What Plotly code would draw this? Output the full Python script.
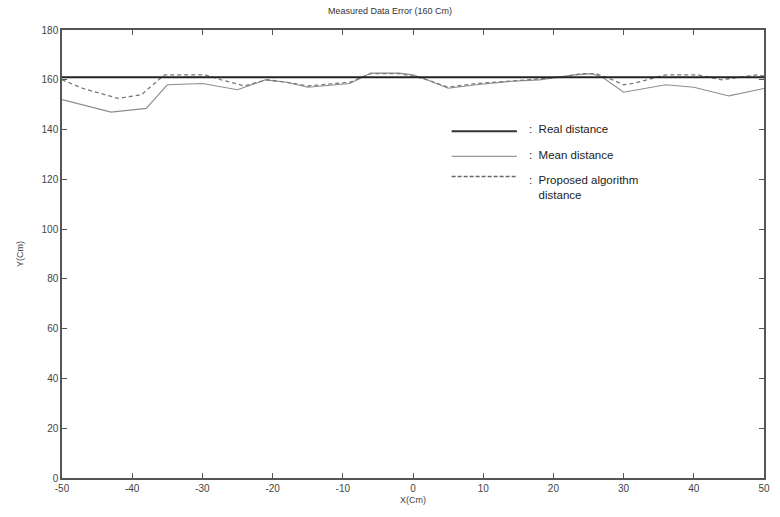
import plotly.graph_objects as go

# ---- data ----
real_x = [-50, 50]
real_y = [161, 161]

mean_x = [-50, -43, -38, -35, -30, -25, -21, -18, -15, -11, -9, -6, -2, 0, 2, 5, 9, 14, 18, 23, 25.5, 27, 30, 36, 40, 45, 50]
mean_y = [152, 147, 148.5, 158, 158.5, 156, 160, 159, 157, 158, 158.5, 162.7, 162.7, 162, 160, 156.6, 158, 159.4, 160, 162, 162.5, 161, 155, 158, 157, 153.5, 156.5]

prop_x = [-50, -47, -42, -38.7, -35.4, -29.7, -27.3, -24, -22.7, -20.8, -18, -15, -11, -9, -6, -2, 0, 2, 5, 9, 14, 18, 21, 24, 26, 28, 30, 31.5, 36, 40.5, 44, 49, 50]
prop_y = [160, 156.5, 152.5, 154, 162, 162, 160, 157.5, 158.6, 160, 159, 157.5, 158.5, 159, 162.5, 162.5, 161.5, 160, 157, 158.5, 159.5, 160.5, 161, 162.5, 162.5, 160.5, 158, 158.6, 162, 162, 160, 162, 161.5]

x_ticks = [-50, -40, -30, -20, -10, 0, 10, 20, 30, 40, 50]
y_ticks = [0, 20, 40, 60, 80, 100, 120, 140, 160, 180]

legend_labels = [":  Real distance", ":  Mean distance", ":  Proposed algorithm<br>   distance"]

FONT = "Liberation Sans, Arial, sans-serif"

fig = go.Figure()
fig.add_trace(go.Scatter(x=mean_x, y=mean_y, mode="lines",
                         line=dict(color="#8e8e8e", width=1.2), showlegend=False))
fig.add_trace(go.Scatter(x=prop_x, y=prop_y, mode="lines",
                         line=dict(color="#7a7a7a", width=1.3, dash="4px,3px"), showlegend=False))
fig.add_trace(go.Scatter(x=real_x, y=real_y, mode="lines",
                         line=dict(color="#222222", width=2), showlegend=False))

# custom legend (decoration)
leg_styles = [dict(color="#333333", width=2),
              dict(color="#999999", width=1.3),
              dict(color="#666666", width=1.3, dash="4px,2px")]
leg_y = [0.774, 0.718, 0.673]
txt_y = [0.778, 0.722, 0.683]
for st, ly, ty, lab in zip(leg_styles, leg_y, txt_y, legend_labels):
    fig.add_shape(type="line", xref="paper", yref="paper",
                  x0=0.555, x1=0.648, y0=ly, y1=ly, line=st)
    fig.add_annotation(xref="paper", yref="paper", x=0.663, y=ty,
                       text=lab, showarrow=False, xanchor="left",
                       yanchor="middle" if "<br>" not in lab else "top",
                       align="left", font=dict(family=FONT, size=11.5, color="#222222"))

fig.update_layout(
    width=780, height=517,
    margin=dict(l=62, r=10, t=30, b=39),
    paper_bgcolor="white", plot_bgcolor="white",
    title=dict(text="Measured Data Error (160 Cm)", x=0.5, xanchor="center",
               y=0.985, yanchor="top",
               font=dict(family=FONT, size=9, color="#333333")),
    font=dict(family=FONT, size=10, color="#444444"),
)
fig.update_xaxes(range=[-50, 50], tickvals=x_ticks, ticktext=[str(v) for v in x_ticks],
                 ticks="inside", ticklen=5,
                 tickcolor="#555555", showline=True, linecolor="#555555", linewidth=1.5,
                 mirror="ticks", showgrid=False, zeroline=False,
                 title=dict(text="X(Cm)", font=dict(family=FONT, size=9, color="#444444"), standoff=4))
fig.update_yaxes(range=[0, 180], tickvals=y_ticks, ticktext=[str(v) for v in y_ticks],
                 ticks="inside", ticklen=5,
                 tickcolor="#555555", showline=True, linecolor="#555555", linewidth=1.5,
                 mirror="ticks", showgrid=False, zeroline=False,
                 title=dict(text="Y(Cm)", font=dict(family=FONT, size=9, color="#444444"), standoff=16))

fig.write_html("out.html")
